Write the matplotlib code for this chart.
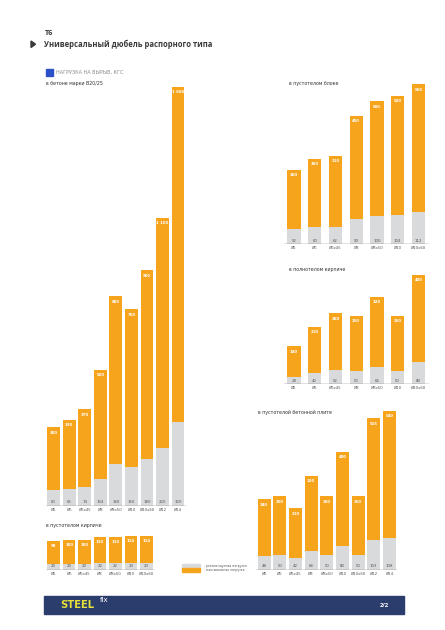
import matplotlib
matplotlib.use("Agg")
import matplotlib.pyplot as plt
from matplotlib.patches import Rectangle, Polygon

# data
conc_labels = ["Ø5", "Ø6", "Ø6x45", "Ø8", "Ø8x50", "Ø10", "Ø10x60", "Ø12", "Ø14"]
conc_max = [300, 330, 370, 520, 800, 750, 900, 1100, 1600]
conc_rec = [60, 66, 74, 104, 160, 150, 180, 220, 320]

block_labels = ["Ø5", "Ø6", "Ø6x45", "Ø8", "Ø8x50", "Ø10", "Ø10x60"]
block_max = [260, 300, 310, 450, 500, 520, 560]
block_rec = [52, 60, 62, 90, 100, 104, 112]

solid_labels = ["Ø5", "Ø6", "Ø6x45", "Ø8", "Ø8x50", "Ø10", "Ø10x60"]
solid_max = [140, 210, 260, 250, 320, 250, 400]
solid_rec = [28, 42, 52, 50, 64, 50, 80]

slab_labels = ["Ø5", "Ø6", "Ø6x45", "Ø8", "Ø8x50", "Ø10", "Ø10x60", "Ø12", "Ø14"]
slab_max = [240, 250, 210, 320, 250, 400, 250, 515, 540]
slab_rec = [48, 50, 42, 64, 50, 80, 50, 103, 108]

brick_labels = ["Ø5", "Ø6", "Ø6x45", "Ø8", "Ø8x50", "Ø10", "Ø10x60"]
brick_max = [98, 100, 100, 110, 110, 114, 114]
brick_rec = [20, 20, 20, 22, 22, 23, 23]

W, H = 445, 630
ORANGE = "#f7a41d"
GREY = "#d9dadc"
NARROW = ["Liberation Sans Narrow", "DejaVu Sans"]

fig = plt.figure(figsize=(W / 100, H / 100), dpi=100)


def fx(x):
    return x / W


def fy(y):
    return 1 - y / H


def fmt(v):
    return f"{v:,}".replace(",", " ")


def panel(left, width, base, top, ymax, labels, vmax, vrec, title, tx, ty, bw=0.82):
    ax = fig.add_axes([fx(left), fy(base), width / W, (base - top) / H])
    n = len(labels)
    x = list(range(n))
    ax.bar(x, vmax, width=bw, color=ORANGE, linewidth=0)
    ax.bar(x, vrec, width=bw, color=GREY, linewidth=0)
    for i in range(n):
        ax.annotate(fmt(vmax[i]), (i, vmax[i]), xytext=(0, -2.5), textcoords="offset points",
                    ha="center", va="top", fontsize=2.8, color="white", fontweight="bold",
                    family=NARROW)
        ax.annotate(str(vrec[i]), (i, 0), xytext=(0, 1.2), textcoords="offset points",
                    ha="center", va="bottom", fontsize=2.8, color="#555555", family=NARROW)
    ax.set_xlim(-0.5, n - 0.5)
    ax.set_ylim(0, ymax)
    ax.set_xticks(x)
    ax.set_xticklabels(labels, fontsize=2.8, color="#555555", family=NARROW)
    ax.tick_params(axis="x", length=0, pad=1.2)
    ax.set_yticks([])
    for s in ax.spines.values():
        s.set_visible(False)
    ax.axhline(0, color="#8a8a8a", lw=0.35)
    fig.text(fx(tx), fy(ty), title, fontsize=3.4, color="#333333", va="center", family=NARROW)
    return ax


panel(45.9, 139.95, 506, 86.7, 1600, conc_labels, conc_max, conc_rec,
      "в бетоне марки В20/25", 46, 84)
panel(283.6, 145.1, 244.3, 84.3, 560, block_labels, block_max, block_rec,
      "в пустотелом блоке", 289, 84, bw=0.64)
panel(283.6, 145.1, 384.3, 275, 400, solid_labels, solid_max, solid_rec,
      "в полнотелом кирпиче", 289, 270, bw=0.64)
panel(256.2, 141.1, 570, 410.7, 540, slab_labels, slab_max, slab_rec,
      "в пустотелой бетонной плите", 258, 412, bw=0.83)
panel(45.9, 108.2, 570, 535.7, 114, brick_labels, brick_max, brick_rec,
      "в пустотелом кирпиче", 46, 526)

# header
fig.text(fx(44.5), fy(33.5), "Т6", fontsize=5.2, fontweight="bold", color="#3a3a3a",
         va="center", family="Open Sans")
fig.text(fx(44.5), fy(44.5), "Универсальный дюбель распорного типа", fontsize=5.5,
         fontweight="bold", color="#3a3a3a", va="center", family="Open Sans")
fig.patches.append(Polygon([[fx(31), fy(41)], [fx(31), fy(47.5)], [fx(35.5), fy(44.2)]],
                           closed=True, color="#3a3a3a", transform=fig.transFigure))
fig.patches.append(Rectangle((fx(46), fy(75.5)), 6.5 / W, 6.5 / H, color="#2b50c8",
                             transform=fig.transFigure))
fig.text(fx(56.5), fy(72.3), "НАГРУЗКА НА ВЫРЫВ, КГС", fontsize=3.5, color="#8a8a8a",
         va="center", family=NARROW)

# legend
fig.patches.append(Rectangle((fx(181.5), fy(567.8)), 18.5 / W, 3.6 / H, color=GREY,
                             transform=fig.transFigure))
fig.patches.append(Rectangle((fx(181.5), fy(571.8)), 18.5 / W, 3.6 / H, color=ORANGE,
                             transform=fig.transFigure))
fig.text(fx(204), fy(566), "- рекомендуемая нагрузка", fontsize=2.2, color="#555555",
         va="center", family=NARROW)
fig.text(fx(204), fy(570), "- максимальная нагрузка", fontsize=2.2, color="#555555",
         va="center", family=NARROW)

# footer
fig.patches.append(Rectangle((fx(44.3), fy(614)), 359.7 / W, 18 / H, color="#2b3d6d",
                             transform=fig.transFigure))
fig.text(fx(60), fy(605.5), "STEEL", fontsize=7.2, fontweight="bold", color="#e6e03a",
         va="center", family="DejaVu Sans")
fig.text(fx(99.5), fy(600.5), "fix", fontsize=5, color="white", va="center", family="DejaVu Sans")
fig.text(fx(380), fy(605.5), "2/2", fontsize=4.2, fontweight="bold", color="white",
         va="center", family="Open Sans")

fig.savefig("out.png", dpi=100, facecolor="white")
